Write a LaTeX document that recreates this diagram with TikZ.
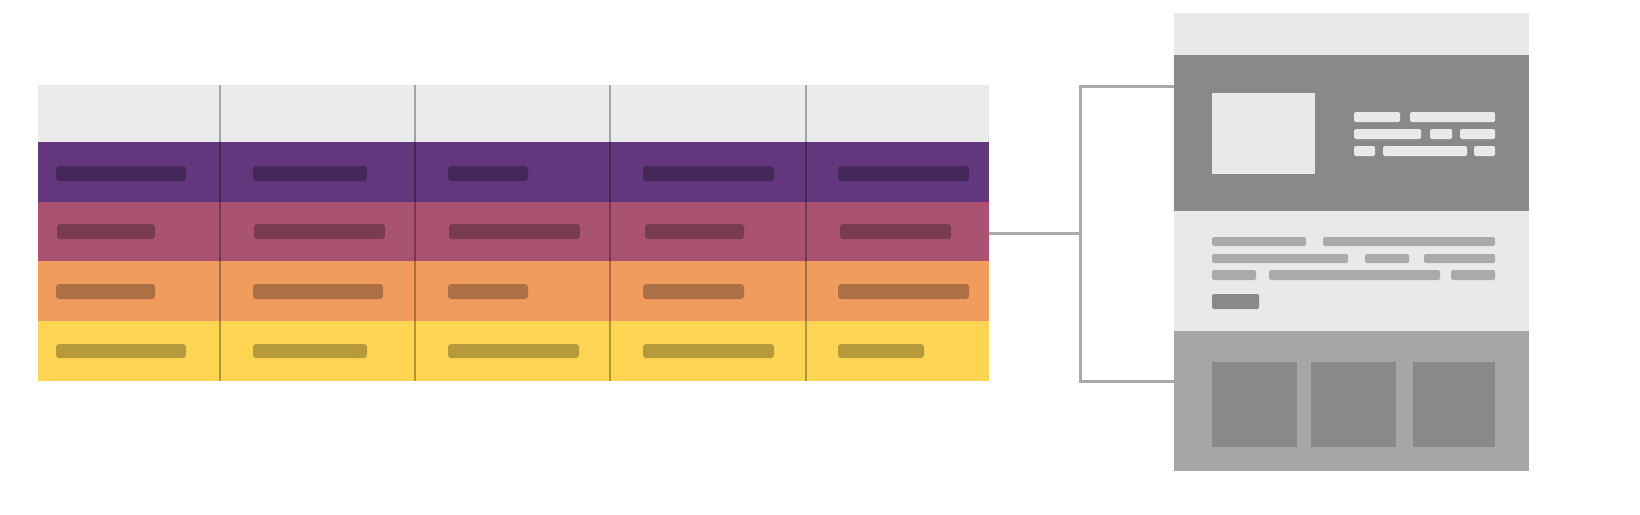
\documentclass[tikz,border=0pt]{standalone}
\usetikzlibrary{positioning}
\definecolor{hdr}{HTML}{EBEBEB}
\definecolor{rowA}{HTML}{62377D}
\definecolor{rowB}{HTML}{A95272}
\definecolor{rowC}{HTML}{F19C5F}
\definecolor{rowD}{HTML}{FDD552}
\definecolor{pglight}{HTML}{E9E9E9}
\definecolor{pgdark}{HTML}{898989}
\definecolor{pgmid}{HTML}{A6A6A6}
\definecolor{pgbar}{HTML}{AAAAAA}
\tikzset{
  band/.style={fill=#1, draw=none},
  cellbar/.style={fill=black, fill opacity=0.28, rounded corners=3pt},
  pgbox/.style={fill=#1, draw=none},
  divider/.style={draw=black, draw opacity=0.3, line width=2pt},
  link/.style={draw=pgbar, line width=3pt},
}
\begin{document}
\begin{tikzpicture}[x=1pt,y=-1pt]
  % Table bands
  \fill[band=hdr]  (38,85)  rectangle (989,142);
  \fill[band=rowA] (38,142) rectangle (989,202);
  \fill[band=rowB] (38,202) rectangle (989,261);
  \fill[band=rowC] (38,261) rectangle (989,321);
  \fill[band=rowD] (38,321) rectangle (989,381);
  \coordinate (table) at (989,233);

  % Cell bars
  \foreach \ya/\yb/\xs in {166/181/{56/186,253/367,448/528,643/774,838/969},
                           224/239/{57/155,254/385,449/580,645/744,840/951},
                           284/299/{56/155,253/383,448/528,643/744,838/969},
                           344/358/{56/186,253/367,448/579,643/774,838/924}}
    \foreach \xa/\xb in \xs
      \fill[cellbar] (\xa,\ya) rectangle (\xb,\yb);

  % Column dividers
  \foreach \x in {220,415,610,806}
    \draw[divider] (\x,85) -- (\x,381);

  % Page
  \fill[pgbox=pglight] (1174,13)  rectangle (1529,55);
  \fill[pgbox=pgdark]  (1174,55)  rectangle (1529,211);
  \fill[pgbox=pglight] (1174,211) rectangle (1529,331);
  \fill[pgbox=pgmid]   (1174,331) rectangle (1529,471);
  \coordinate (hero)   at (1174,86);
  \coordinate (footer) at (1174,381);

  % Hero
  \fill[pgbox=pglight] (1212,93) rectangle (1315,174);
  \foreach \ya/\yb/\xs in {112/122/{1354/1400,1410/1495},
                           129/139/{1354/1421,1430/1452,1460/1495},
                           146/156/{1354/1375,1383/1467,1474/1495}}
    \foreach \xa/\xb in \xs
      \fill[pglight, rounded corners=1.5pt] (\xa,\ya) rectangle (\xb,\yb);

  % Content
  \foreach \ya/\yb/\xs in {237/246/{1212/1306,1323/1495},
                           254/263/{1212/1348,1365/1409,1424/1495},
                           270/280/{1212/1256,1269/1440,1451/1495}}
    \foreach \xa/\xb in \xs
      \fill[pgbar, rounded corners=1.5pt] (\xa,\ya) rectangle (\xb,\yb);
  \fill[pgdark, rounded corners=1.5pt] (1212,294) rectangle (1259,309);

  % Footer
  \foreach \xa/\xb in {1212/1297,1311/1396,1413/1495}
    \fill[pgbox=pgdark] (\xa,362) rectangle (\xb,447);

  % Bracket
  \coordinate (hub) at (1080,233);
  \draw[link] (table) -- (hub);
  \draw[link] (hero) -| (hub) |- (footer);

  \pgfresetboundingbox
  \path[use as bounding box] (0,0) rectangle (1640,514);
\end{tikzpicture}
\end{document}
